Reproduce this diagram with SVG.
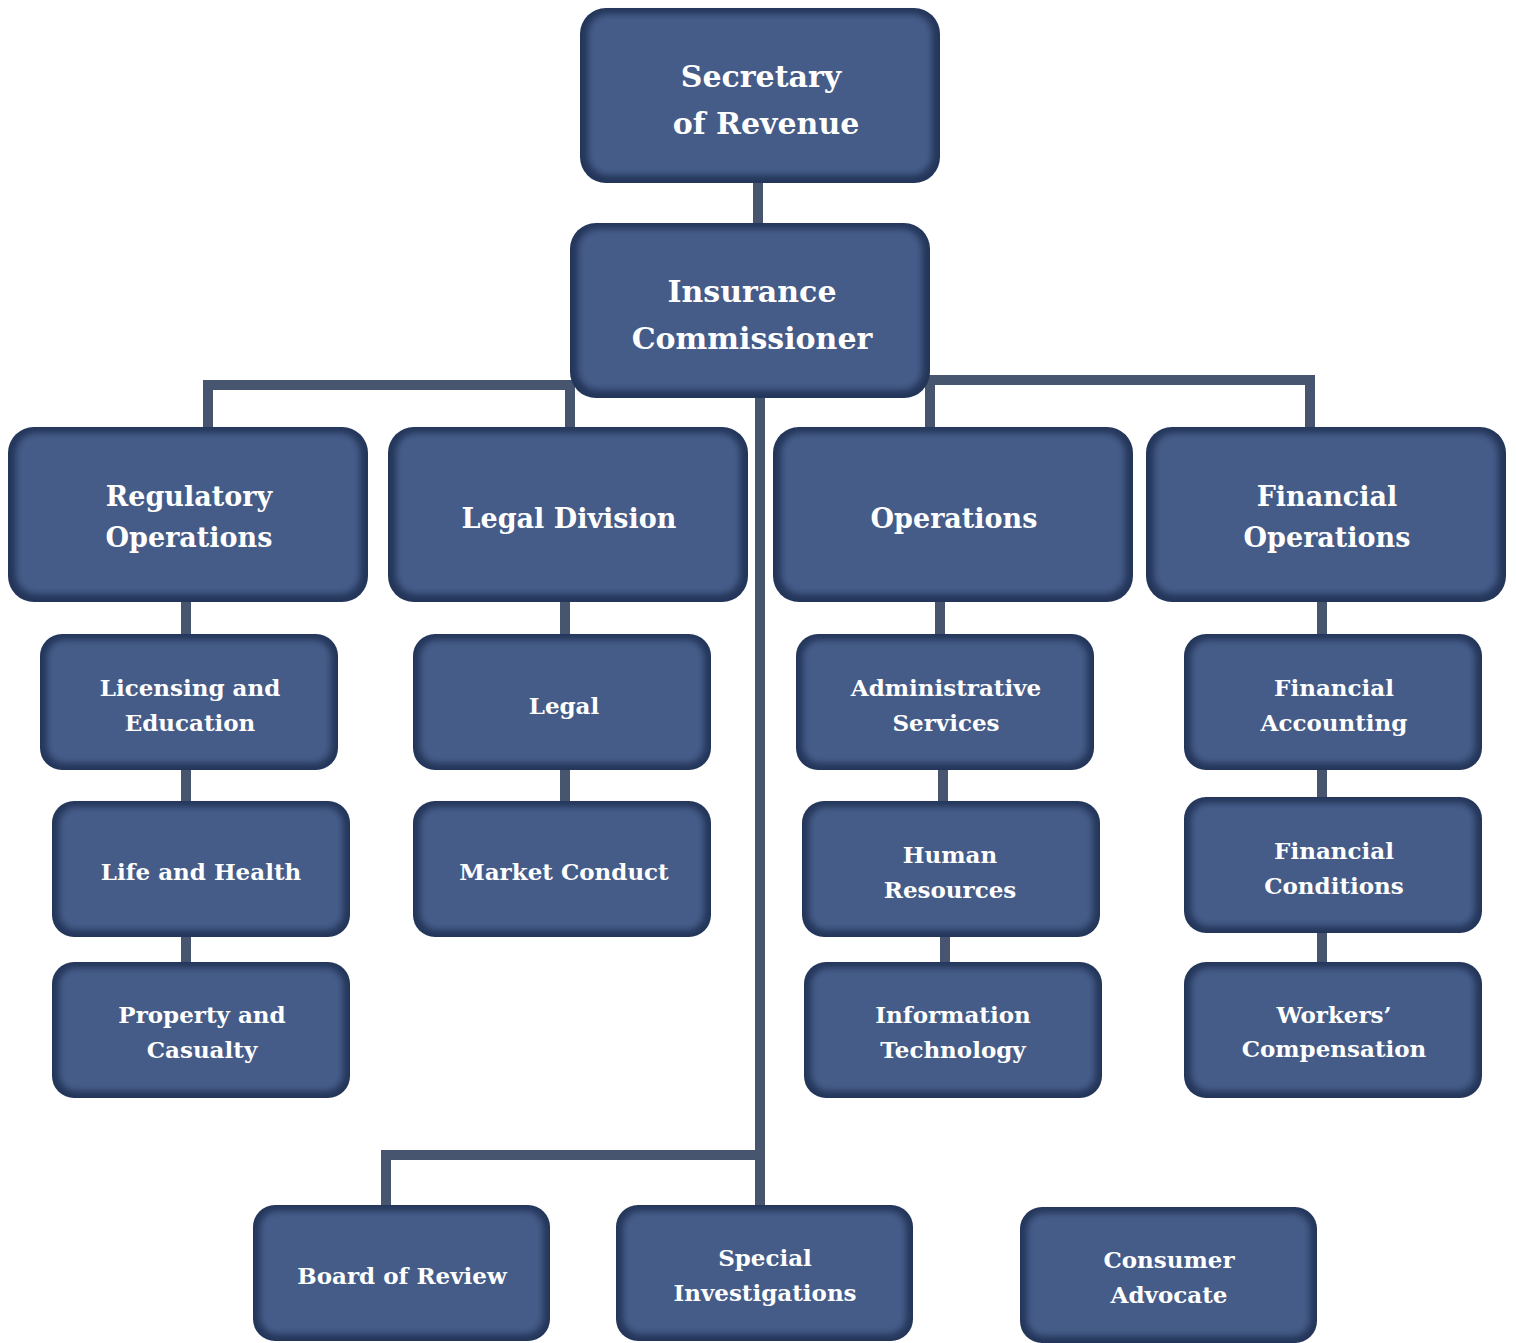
<svg xmlns="http://www.w3.org/2000/svg" width="1516" height="1343" viewBox="0 0 1516 1343">
<style>
.outer{fill:#24365a}
.inner{fill:#445b88;filter:url(#soft)}
.c{stroke:#47566e;stroke-width:10;fill:none;stroke-linejoin:miter}
.lbl{font-family:"DejaVu Serif","Liberation Serif",serif;font-weight:bold;fill:#ffffff;text-anchor:middle}
.t1{font-size:30px}
.t2{font-size:27px}
.t3{font-size:23px}
</style>
<defs>
<filter id="soft" x="-5%" y="-5%" width="110%" height="110%"><feGaussianBlur stdDeviation="3"/></filter>
</defs>
<rect width="1516" height="1343" fill="#ffffff"/>
<g id="connectors">
<path class="c" d="M758 183V223"/>
<path class="c" d="M208 427V385H575"/>
<path class="c" d="M570 385V427"/>
<path class="c" d="M925 380H1310V427"/>
<path class="c" d="M930 380V427"/>
<path class="c" d="M760 398V1205"/>
<path class="c" d="M760 1155H386V1205"/>
<path class="c" d="M186 602V634M186 770V801M186 937V962"/>
<path class="c" d="M565 602V634M565 770V801"/>
<path class="c" d="M940 602V634M943 770V801M945 937V962"/>
<path class="c" d="M1322 602V634M1322 770V797M1322 933V962"/>
</g>
<g id="secretary"><rect class="outer" x="580" y="8" width="360" height="175" rx="26"/><rect class="inner" x="588" y="14" width="344" height="161" rx="20"/><text class="lbl t1" x="761" y="87">Secretary</text><text class="lbl t1" x="766" y="134">of Revenue</text></g>
<g id="commissioner"><rect class="outer" x="570" y="223" width="360" height="175" rx="26"/><rect class="inner" x="578" y="229" width="344" height="161" rx="20"/><text class="lbl t1" x="752" y="302">Insurance</text><text class="lbl t1" x="752" y="349">Commissioner</text></g>
<g id="regulatory"><rect class="outer" x="8" y="427" width="360" height="175" rx="26"/><rect class="inner" x="16" y="433" width="344" height="161" rx="20"/><text class="lbl t2" x="189" y="506">Regulatory</text><text class="lbl t2" x="189" y="547">Operations</text></g>
<g id="legaldiv"><rect class="outer" x="388" y="427" width="360" height="175" rx="26"/><rect class="inner" x="396" y="433" width="344" height="161" rx="20"/><text class="lbl t2" x="569" y="528">Legal Division</text></g>
<g id="operations"><rect class="outer" x="773" y="427" width="360" height="175" rx="26"/><rect class="inner" x="781" y="433" width="344" height="161" rx="20"/><text class="lbl t2" x="954" y="528">Operations</text></g>
<g id="finops"><rect class="outer" x="1146" y="427" width="360" height="175" rx="26"/><rect class="inner" x="1154" y="433" width="344" height="161" rx="20"/><text class="lbl t2" x="1327" y="506">Financial</text><text class="lbl t2" x="1327" y="547">Operations</text></g>
<g id="licensing"><rect class="outer" x="40" y="634" width="298" height="136" rx="22"/><rect class="inner" x="47" y="640" width="284" height="123" rx="17"/><text class="lbl t3" x="190" y="696">Licensing and</text><text class="lbl t3" x="190" y="731">Education</text></g>
<g id="lifehealth"><rect class="outer" x="52" y="801" width="298" height="136" rx="22"/><rect class="inner" x="59" y="807" width="284" height="123" rx="17"/><text class="lbl t3" x="201" y="880">Life and Health</text></g>
<g id="property"><rect class="outer" x="52" y="962" width="298" height="136" rx="22"/><rect class="inner" x="59" y="968" width="284" height="123" rx="17"/><text class="lbl t3" x="202" y="1023">Property and</text><text class="lbl t3" x="202" y="1058">Casualty</text></g>
<g id="legal"><rect class="outer" x="413" y="634" width="298" height="136" rx="22"/><rect class="inner" x="420" y="640" width="284" height="123" rx="17"/><text class="lbl t3" x="564" y="714">Legal</text></g>
<g id="market"><rect class="outer" x="413" y="801" width="298" height="136" rx="22"/><rect class="inner" x="420" y="807" width="284" height="123" rx="17"/><text class="lbl t3" x="564" y="880">Market Conduct</text></g>
<g id="admin"><rect class="outer" x="796" y="634" width="298" height="136" rx="22"/><rect class="inner" x="803" y="640" width="284" height="123" rx="17"/><text class="lbl t3" x="946" y="696">Administrative</text><text class="lbl t3" x="946" y="731">Services</text></g>
<g id="hr"><rect class="outer" x="802" y="801" width="298" height="136" rx="22"/><rect class="inner" x="809" y="807" width="284" height="123" rx="17"/><text class="lbl t3" x="950" y="863">Human</text><text class="lbl t3" x="950" y="898">Resources</text></g>
<g id="it"><rect class="outer" x="804" y="962" width="298" height="136" rx="22"/><rect class="inner" x="811" y="968" width="284" height="123" rx="17"/><text class="lbl t3" x="953" y="1023">Information</text><text class="lbl t3" x="953" y="1058">Technology</text></g>
<g id="finacct"><rect class="outer" x="1184" y="634" width="298" height="136" rx="22"/><rect class="inner" x="1191" y="640" width="284" height="123" rx="17"/><text class="lbl t3" x="1334" y="696">Financial</text><text class="lbl t3" x="1334" y="731">Accounting</text></g>
<g id="fincond"><rect class="outer" x="1184" y="797" width="298" height="136" rx="22"/><rect class="inner" x="1191" y="803" width="284" height="123" rx="17"/><text class="lbl t3" x="1334" y="859">Financial</text><text class="lbl t3" x="1334" y="894">Conditions</text></g>
<g id="workers"><rect class="outer" x="1184" y="962" width="298" height="136" rx="22"/><rect class="inner" x="1191" y="968" width="284" height="123" rx="17"/><text class="lbl t3" x="1334" y="1023">Workers’</text><text class="lbl t3" x="1334" y="1057">Compensation</text></g>
<g id="board"><rect class="outer" x="253" y="1205" width="297" height="136" rx="22"/><rect class="inner" x="260" y="1211" width="283" height="123" rx="17"/><text class="lbl t3" x="402" y="1284">Board of Review</text></g>
<g id="special"><rect class="outer" x="616" y="1205" width="297" height="136" rx="22"/><rect class="inner" x="623" y="1211" width="283" height="123" rx="17"/><text class="lbl t3" x="765" y="1266">Special</text><text class="lbl t3" x="765" y="1301">Investigations</text></g>
<g id="consumer"><rect class="outer" x="1020" y="1207" width="297" height="136" rx="22"/><rect class="inner" x="1027" y="1213" width="283" height="123" rx="17"/><text class="lbl t3" x="1169" y="1268">Consumer</text><text class="lbl t3" x="1169" y="1303">Advocate</text></g>
</svg>
